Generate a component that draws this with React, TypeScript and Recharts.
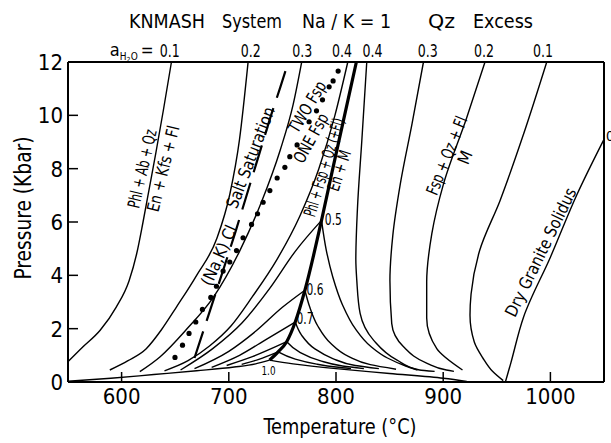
import React from 'react'
import { ComposedChart, Line, Scatter, XAxis, YAxis } from 'recharts'

const FONT = "'DejaVu Sans Condensed', 'Liberation Sans Narrow', 'DejaVu Sans', sans-serif"

// [temperature °C, pressure kbar]

// Phl + Ab + Qz = En + Kfs + Fl at several water activities
const dehyd01 = [[550, 0.76], [564, 1.32], [580, 1.94], [595, 2.81], [607, 3.8], [614, 4.8], [620, 6.0], [626, 7.3], [632, 8.6], [639, 10.2], [646.5, 12]]
const dehyd02 = [[589, 0.45], [606, 0.8], [623, 1.25], [637, 1.95], [651, 2.8], [670, 4.0], [689, 5.4], [701, 7.05], [710, 9.1], [718, 12]]
const dehyd03 = [[617, 0.39], [636, 0.95], [660, 1.95], [686, 3.2], [710, 4.9], [730, 6.7], [748, 8.7], [760, 10.4], [768, 12]]
const dehyd04 = [[640, 0.42], [662, 0.8], [682, 1.35], [702, 2.1], [722, 3.2], [745, 4.6], [766, 6.2], [784, 8.0], [799, 10], [811, 12]]
const dehyd05 = [[655, 0.45], [685, 1.25], [712, 2.2], [738, 3.5], [762, 4.9], [786.5, 6.06]]
const dehyd06 = [[668, 0.5], [700, 1.15], [725, 1.9], [750, 2.8], [771, 3.44]]
const dehyd07 = [[684, 0.55], [710, 1.0], [735, 1.6], [762, 2.25]]
const dehyd08 = [[698, 0.62], [722, 0.95], [754, 1.51]]
const dehyd09 = [[712, 0.66], [728, 0.85], [746, 1.13]]
const dehyd10 = [[550, 0.03], [590, 0.14], [630, 0.28], [670, 0.42], [705, 0.56], [725, 0.68], [738, 0.82]]

// Phl + Fsp + Qz (+Fl) = En + M
const heavyLine = [[738, 0.82], [746, 1.13], [754, 1.51], [762, 2.25], [771, 3.44], [786.5, 6.06], [797, 8], [808, 10], [819, 12]]

// Fsp + Qz + Fl = M, ordered by pressure
const melt10 = [[922, 0.02], [900, 0.14], [850, 0.32], [800, 0.5], [760, 0.68], [738, 0.82]]
const melt09 = [[814, 0.5], [800, 0.56], [782, 0.67], [762, 0.86], [746, 1.13]]
const melt08 = [[826, 0.5], [806, 0.6], [785, 0.8], [766, 1.12], [754, 1.51]]
const melt07 = [[840, 0.5], [818, 0.62], [797, 0.88], [780, 1.25], [768, 1.75], [762, 2.25]]
const melt06 = [[856, 0.48], [832, 0.65], [812, 0.95], [795, 1.45], [783, 2.1], [775.5, 2.81], [771, 3.44]]
const melt05 = [[876, 0.45], [865, 0.6], [848, 0.9], [832, 1.35], [818, 2.0], [806, 2.9], [797, 3.94], [791, 4.93], [786.5, 6.06]]
const melt04 = [[892, 0.4], [878, 0.45], [857, 0.82], [835, 1.57], [822.5, 2.57], [819.4, 3.81], [818.5, 4.6], [820, 6.5], [824, 9], [828.7, 12]]
const melt03 = [[910, 0.4], [903, 0.45], [885, 0.7], [863, 1.32], [852, 2.19], [850.3, 3.81], [853, 5.5], [860, 7.43], [871, 9.7], [881.6, 12]]
const melt02 = [[918, 0.45], [894, 1.25], [884.6, 2.4], [884.6, 3.75], [889.4, 5.56], [900.3, 7.43], [922, 9.92], [939, 12]]
const melt01 = [[956, 0.05], [946, 0.4], [937, 0.9], [929, 1.5], [925, 2.5], [926, 3.3], [934, 4.93], [953, 6.8], [975, 9.3], [996.6, 12]]
const drySolidus = [[958, 0], [963, 0.7], [975, 2.44], [1000, 4.68], [1025, 7.05], [1050, 9.1]]

// (Na,K)Cl salt saturation
const saltLine = [[668, 0.9], [681, 2.5], [694, 4.1], [706, 5.6], [717, 7.05], [728, 8.5], [739, 9.95], [748, 11.05], [755.5, 12]]

// one / two feldspar boundary (dots)
const fspDots = [[649.8, 0.92], [656.8, 1.38], [662.9, 1.82], [669.2, 2.25], [675.4, 2.72], [683.2, 3.17], [688.5, 3.59], [694.7, 4.16], [700.9, 4.5], [707.2, 4.93], [713.3, 5.41], [721.2, 5.91], [726.8, 6.31], [732, 6.74], [738.3, 7.18], [745.1, 7.65], [752.3, 8.05], [756.9, 8.45], [763.7, 8.89], [774.9, 9.76], [781.8, 10.17], [787.4, 10.58], [793.6, 11.07], [797.3, 11.29], [802, 11.66]]

const tempTicks = [600, 700, 800, 900, 1000]
const pressTicks = [0, 2, 4, 6, 8, 10, 12]
const aTopTemps = [645, 720.5, 768.5, 805.5, 834, 885.7, 938, 993]
const aTopLabels = ['0.1', '0.2', '0.3', '0.4', '0.4', '0.3', '0.2', '0.1']

const toPts = (rows: number[][]) => rows.map(([t, p]) => ({ t, p }))

const thinCurves = [dehyd01, dehyd02, dehyd03, dehyd04, dehyd05, dehyd06, dehyd07, dehyd08, dehyd09, dehyd10]
const meltCurves = [melt10, melt09, melt08, melt07, melt06, melt05, melt04, melt03, melt02, melt01, drySolidus]

const notes = [
  { t: 619.1, p: 8.0, text: 'Phl + Ab + Qz', rot: -77, len: 80 },
  { t: 638.7, p: 8.0, text: 'En + Kfs + Fl', rot: -76, len: 88 },
  { t: 690.7, p: 4.75, text: '(Na,K)  Cl', rot: -66, len: 64 },
  { t: 720.2, p: 8.42, text: 'Salt Saturation', rot: -69, len: 107 },
  { t: 773.1, p: 10.32, text: 'TWO  Fsp', rot: -59, len: 57 },
  { t: 776.5, p: 9.15, text: 'ONE  Fsp', rot: -61, len: 54 },
  { t: 788.7, p: 8.05, text: 'Phl + Fsp + Qz (+Fl)', rot: -73, len: 102 },
  { t: 802.9, p: 7.93, text: 'En + M', rot: -72, len: 42 },
  { t: 903.2, p: 8.49, text: 'Fsp + Qz + Fl', rot: -68, len: 83 },
  { t: 920.2, p: 8.42, text: 'M', rot: -68 },
  { t: 990.9, p: 4.87, text: 'Dry Granite Solidus', rot: -64, len: 141 },
  { t: 789.6, p: 5.87, text: '0.5', anchor: 'start', size: 15, len: 17 },
  { t: 772.5, p: 3.25, text: '0.6', anchor: 'start', size: 15, len: 17 },
  { t: 763.2, p: 2.19, text: '0.7', anchor: 'start', size: 15, len: 17 },
  { t: 730.5, p: 0.26, text: '1.0', anchor: 'start', size: 12, len: 14 },
  { t: 1050, p: 9.04, text: '0', anchor: 'start', size: 14, dx: 2 },
]

const topLabels = aTopTemps.map((t, i) => ({ t, p: 12, text: aTopLabels[i], first: i === 0 }))

const NoteShape = (props: any) => {
  const { cx, cy, payload } = props
  const { text, rot, len, anchor = 'middle', size = 17, dx = 0 } = payload
  const x = cx + dx
  return (
    <text
      x={x}
      y={cy}
      textAnchor={anchor}
      dominantBaseline={rot ? 'central' : 'auto'}
      fontSize={size}
      fontFamily={FONT}
      fill="#000"
      transform={rot ? `rotate(${rot} ${x} ${cy})` : undefined}
      textLength={len}
      lengthAdjust={len ? 'spacingAndGlyphs' : undefined}
    >
      {text}
    </text>
  )
}

const TopLabelShape = (props: any) => {
  const { cx, cy, payload } = props
  return (
    <g fontFamily={FONT} fill="#000">
      {payload.first && (
        <g>
          <text x={cx - 60} y={cy - 6} fontSize={18}>a</text>
          <text x={cx - 50} y={cy - 2} fontSize={10}>
            H<tspan dy={2} fontSize={7}>2</tspan><tspan dy={-2}>O</tspan>
          </text>
          <text x={cx - 29} y={cy - 6} fontSize={17}>=</text>
        </g>
      )}
      <text x={cx} y={cy - 5} textAnchor="middle" fontSize={18} textLength={20} lengthAdjust="spacingAndGlyphs">
        {payload.text}
      </text>
    </g>
  )
}

const BottomTick = (props: any) => {
  const { x, y, payload } = props
  return (
    <g>
      <line x1={x} y1={y} x2={x} y2={y - 10} stroke="#000" strokeWidth={1.5} />
      <text x={x} y={y + 22} textAnchor="middle" fontSize={22} fontFamily={FONT} fill="#000">
        {payload.value}
      </text>
    </g>
  )
}

const TopTick = (props: any) => {
  const { x, y } = props
  return <line x1={x} y1={y} x2={x} y2={y + 10} stroke="#000" strokeWidth={1.5} />
}

const LeftTick = (props: any) => {
  const { x, y, payload } = props
  return (
    <g>
      <line x1={x} y1={y} x2={x + 10} y2={y} stroke="#000" strokeWidth={1.5} />
      <text x={x - 5} y={y + 8} textAnchor="end" fontSize={22} fontFamily={FONT} fill="#000">
        {payload.value}
      </text>
    </g>
  )
}

const RightTick = (props: any) => {
  const { x, y, payload } = props
  if (payload.value === 0 || payload.value === 12) return <g />
  return <line x1={x} y1={y} x2={x - 10} y2={y} stroke="#000" strokeWidth={1.5} />
}

const axisLine = { stroke: '#000', strokeWidth: 2 }

export default function App() {
  return (
    <div style={{ position: 'relative', width: 611, height: 443, background: '#fff' }}>
      <style>{'body{margin:0;background:#fff}'}</style>
      <ComposedChart width={611} height={443} margin={{ top: 0, right: 0, bottom: 0, left: 0 }}>
        <XAxis
          xAxisId={0}
          dataKey="t"
          type="number"
          domain={[550, 1050]}
          ticks={tempTicks}
          height={61}
          tickSize={0}
          tickMargin={0}
          tickLine={false}
          axisLine={axisLine}
          tick={BottomTick}
          interval={0}
        />
        <XAxis
          xAxisId="top"
          orientation="top"
          dataKey="t"
          type="number"
          domain={[550, 1050]}
          ticks={tempTicks}
          height={62}
          tickSize={0}
          tickMargin={0}
          tickLine={false}
          axisLine={axisLine}
          tick={TopTick}
          interval={0}
        />
        <YAxis
          yAxisId={0}
          dataKey="p"
          type="number"
          domain={[0, 12]}
          ticks={pressTicks}
          width={68}
          tickSize={0}
          tickMargin={0}
          tickLine={false}
          axisLine={axisLine}
          tick={LeftTick}
          interval={0}
        />
        <YAxis
          yAxisId="right"
          orientation="right"
          dataKey="p"
          type="number"
          domain={[0, 12]}
          ticks={pressTicks}
          width={7}
          tickSize={0}
          tickMargin={0}
          tickLine={false}
          axisLine={axisLine}
          tick={RightTick}
          interval={0}
        />

        {thinCurves.map((c, i) => (
          <Line key={'d' + i} data={toPts(c)} dataKey="p" type="monotone" stroke="#000" strokeWidth={1.4} dot={false} activeDot={false} isAnimationActive={false} />
        ))}
        {meltCurves.map((c, i) => (
          <Line key={'m' + i} data={toPts(c)} dataKey="p" type="monotoneY" stroke="#000" strokeWidth={1.4} dot={false} activeDot={false} isAnimationActive={false} />
        ))}
        <Line data={toPts(heavyLine)} dataKey="p" type="monotone" stroke="#000" strokeWidth={3.2} dot={false} activeDot={false} isAnimationActive={false} />
        <Line data={toPts(saltLine)} dataKey="p" type="linear" stroke="#000" strokeWidth={2.2} strokeDasharray="28 11" dot={false} activeDot={false} isAnimationActive={false} />
        <Line data={toPts(fspDots)} dataKey="p" type="linear" stroke="none" dot={{ r: 2.6, fill: '#000', stroke: 'none' }} activeDot={false} isAnimationActive={false} />

        <Scatter data={notes} dataKey="p" shape={NoteShape} isAnimationActive={false} />
        <Scatter data={topLabels} dataKey="p" shape={TopLabelShape} isAnimationActive={false} />
      </ComposedChart>

      <svg width={611} height={443} style={{ position: 'absolute', left: 0, top: 0, pointerEvents: 'none' }} fontFamily={FONT} fill="#000">
        <text x={129} y={28} fontSize={19} textLength={76} lengthAdjust="spacingAndGlyphs">KNMASH</text>
        <text x={222} y={28} fontSize={19} textLength={60} lengthAdjust="spacingAndGlyphs">System</text>
        <text x={302} y={28} fontSize={19} textLength={89} lengthAdjust="spacingAndGlyphs">Na / K = 1</text>
        <text x={428} y={28} fontSize={19} textLength={27} lengthAdjust="spacingAndGlyphs">Qz</text>
        <text x={473} y={28} fontSize={19} textLength={60} lengthAdjust="spacingAndGlyphs">Excess</text>
        <text x={340} y={434} fontSize={22} textAnchor="middle" textLength={153} lengthAdjust="spacingAndGlyphs">Temperature (°C)</text>
        <text x={31} y={208} fontSize={23} textAnchor="middle" transform="rotate(-90 31 208)" textLength={143} lengthAdjust="spacingAndGlyphs">Pressure  (Kbar)</text>
      </svg>
    </div>
  )
}
